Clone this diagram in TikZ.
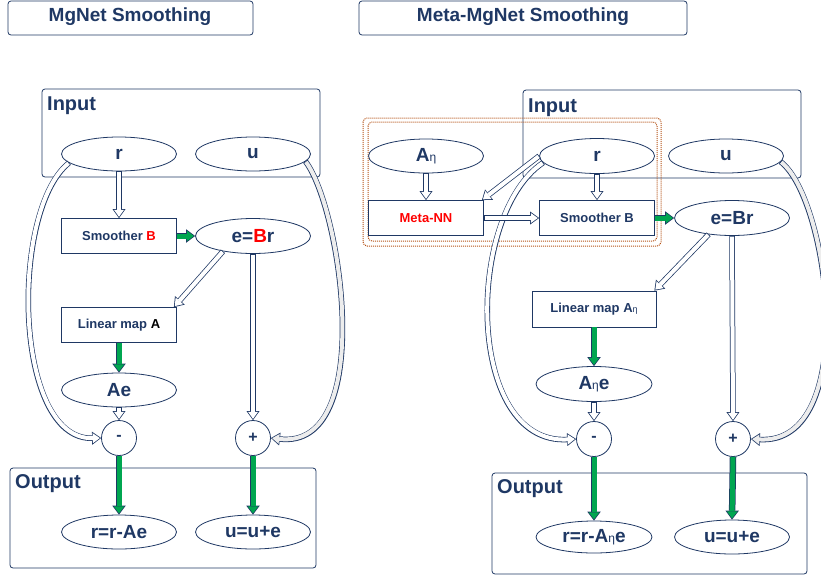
\documentclass[tikz,border=0pt]{standalone}
\usepackage{fontspec}
\setmainfont{Liberation Sans}
\usetikzlibrary{arrows.meta,shapes.geometric}
\definecolor{navy}{RGB}{31,56,100}
\definecolor{grn}{RGB}{0,166,80}
\definecolor{dorange}{RGB}{180,82,22}
\definecolor{redc}{RGB}{255,0,0}
\newcommand\smeta[1]{{\fontsize{#1}{#1}\selectfont\mdseries η}}
\tikzset{
  ell/.style={ellipse, draw=navy, line width=0.8pt, fill=white, minimum width=115pt, minimum height=34pt, inner sep=0pt, text=navy, font=\fontsize{19}{19}\selectfont\bfseries},
  box/.style={rectangle, draw=navy, line width=0.8pt, fill=white, minimum width=115pt, minimum height=35pt, inner sep=0pt, text=navy, font=\fontsize{13}{13}\selectfont\bfseries},
  opc/.style={circle, draw=navy, line width=0.8pt, fill=white, minimum size=35pt, inner sep=0pt, text=navy, font=\fontsize{16}{16}\selectfont\bfseries},
  frame/.style={draw=navy, line width=0.8pt, rounded corners=3pt},
  dotbox/.style={draw=dorange, line width=1pt, densely dotted, rounded corners=4pt},
  lbl/.style={anchor=base west, inner sep=0pt, text=navy, font=\fontsize{20}{20}\selectfont\bfseries},
  ttl/.style={text=navy, font=\fontsize{19}{19}\selectfont\bfseries},
  hol/.style={#1, line width=4pt, -{Triangle[length=7pt,width=10pt,line width=0pt]}, shorten >=1.3pt, shorten <=0.75pt,
    preaction={draw=navy, line width=5.5pt, shorten >=0pt, shorten <=0pt, -{Triangle[length=9pt,width=13pt,line width=0pt]}}},
  hol/.default=white,
  grar/.style={grn, line width=5pt, -{Triangle[length=7pt,width=10.5pt,line width=0pt]}, shorten >=1.25pt, shorten <=0pt,
    preaction={draw=navy, line width=6.5pt, shorten >=0pt, shorten <=0pt, -{Triangle[length=9pt,width=13.5pt,line width=0pt]}}},
}
\begin{document}
\begin{tikzpicture}[x=1pt,y=-1pt]
\useasboundingbox (0,0) rectangle (821,579);
\clip (0,0) rectangle (821,579);
% ---------- titles
\draw[frame] (8,1) rectangle (253,35);
\node[ttl] (t1) at (130,17) {MgNet Smoothing};
\draw[frame] (359,1) rectangle (687,35);
\node[ttl] (t2) at (523,17) {Meta-MgNet Smoothing};
% ---------- left frames
\draw[frame] (42,89) rectangle (320,177);
\node[lbl] (inL) at (47,110) {Input};
\draw[frame] (10,468) rectangle (316,568);
\node[lbl] (outL) at (15,488) {Output};
% ---------- right frames
\draw[frame] (523,90) rectangle (801,178);
\node[lbl] (inR) at (528,112) {Input};
\draw[frame] (492,473) rectangle (807,574);
\node[lbl] (outR) at (497,493) {Output};
\draw[dotbox] (363,118) rectangle (661,246);
\draw[dotbox] (368,122) rectangle (657,241);
% ---------- left nodes
\node[ell] (rL) at (119,154) {r};
\node[ell] (uL) at (253,154) {u};
\node[box] (smL) at (119,236) {Smoother \textcolor{redc}{B}};
\node[ell, minimum height=35pt] (eL) at (253,236) {e=\textcolor{redc}{B}r};
\node[box] (linL) at (119,325) {Linear map \textcolor{black}{A}};
\node[ell] (aeL) at (119,390) {Ae};
\node[opc] (mL) at (119,438) {-};
\node[opc] (pL) at (253,438) {+};
\node[ell] (rrL) at (119,532) {r=r-Ae};
\node[ell] (uuL) at (253,532) {u=u+e};
% ---------- right nodes
\node[ell] (aeta) at (426,156) {A\smeta{12}};
\node[ell, minimum height=35pt] (rR) at (597,156) {r};
\node[ell] (uR) at (726,156) {u};
\node[box, text=redc] (nn) at (426,218) {Meta-NN};
\node[box] (smR) at (597,218) {Smoother B};
\node[ell, minimum height=35pt] (eR) at (732,218) {e=Br};
\node[box, minimum width=124pt, minimum height=36pt] (linR) at (594,309) {Linear map A\smeta{9}};
\node[ell, minimum width=116pt, minimum height=35pt] (aeR) at (594,384) {A\smeta{12}e};
\node[opc] (mR) at (594,439) {-};
\node[opc] (pR) at (733,439) {+};
\node[ell, minimum width=116pt, minimum height=32pt] (rrR) at (594,537) {r=r-A\smeta{12}e};
\node[ell] (uuR) at (732,537) {u=u+e};
% ---------- left connectors
\draw[hol] (rL.190) .. controls (10,210) and (13,440) .. (mL.west);
\draw[hol=gray!14] (uL.352) .. controls (342,210) and (376,450) .. (pL.east);
\draw[hol] (rL.south) -- (smL.north);
\draw[grar] (smL.east) -- (eL.west);
\draw[hol] (eL.207) -- ([xshift=-3pt]linL.north east);
\draw[hol] (eL.south) -- (pL.north);
\draw[grar] (linL.south) -- (aeL.north);
\draw[hol] (aeL.south) -- (mL.north);
\draw[grar] (mL.south) -- (rrL.north);
\draw[grar] (pL.south) -- (uuL.north);
% ---------- right connectors
\draw[hol] (rR.187) .. controls (465,215) and (465,445) .. (mR.west);
\draw[hol=gray!14] (uR.354) .. controls (830,200) and (860,445) .. (pR.east);
\draw[hol] (aeta.south) -- (nn.north);
\draw[hol] (rR.west) -- ([xshift=-2pt]nn.north east);
\draw[hol] (nn.east) -- (smR.west);
\draw[hol] (rR.south) -- (smR.north);
\draw[grar] (smR.east) -- (eR.west);
\draw[hol] (eR.215) -- ([xshift=-2pt]linR.north east);
\draw[hol] (eR.south) -- (pR.north);
\draw[grar] (linR.south) -- (aeR.north);
\draw[hol] (aeR.south) -- (mR.north);
\draw[grar] (mR.south) -- (rrR.north);
\draw[grar] (pR.south) -- (uuR.north);
\end{tikzpicture}
\end{document}
